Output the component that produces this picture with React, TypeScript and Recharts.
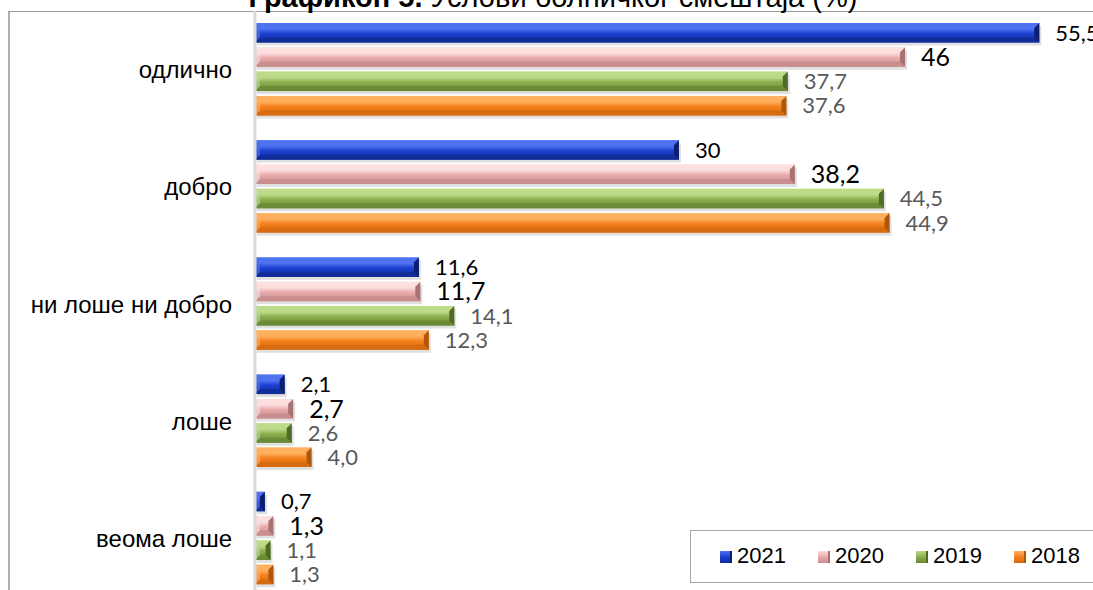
import React from 'react';
import { BarChart, Bar, XAxis, YAxis, LabelList, Legend } from 'recharts';

const categories = ['одлично', 'добро', 'ни лоше ни добро', 'лоше', 'веома лоше'];
const years = ['2021', '2020', '2019', '2018'];
const values2021 = [55.5, 30, 11.6, 2.1, 0.7];
const values2020 = [46, 38.2, 11.7, 2.7, 1.3];
const values2019 = [37.7, 44.5, 14.1, 2.6, 1.1];
const values2018 = [37.6, 44.9, 12.3, 4.0, 1.3];

const titleBold = 'Графикон 5.';
const titleRest = ' Услови болничког смештаја (%)';

const data = categories.map((name, i) => ({
  name,
  y2021: values2021[i],
  y2020: values2020[i],
  y2019: values2019[i],
  y2018: values2018[i],
}));

type Pal = { light: string; mid: string; dark: string; edge: string };
const palettes: Record<string, Pal> = {
  '2021': { light: '#4f72f0', mid: '#1c3fd0', dark: '#112c98', edge: '#0b1f6e' },
  '2020': { light: '#fcdede', mid: '#e8aaaa', dark: '#c98d8d', edge: '#a87272' },
  '2019': { light: '#bddb88', mid: '#8aae4e', dark: '#6a8a36', edge: '#506a26' },
  '2018': { light: '#ffb05e', mid: '#f4801c', dark: '#d66a10', edge: '#b0560a' },
};

const fmtPlain = (v: any) => String(v).replace('.', ',');
const fmtOne = (v: any) => Number(v).toFixed(1).replace('.', ',');

const makeShape = (year: string) => (props: any) => {
  const { x, y, width, height } = props;
  if (!width || width <= 0) return <g />;
  const p = palettes[year];
  const id = `g${year}`;
  const b = Math.min(5, width / 2, height / 2);
  const w = width;
  const h = height;
  return (
    <g>
      <defs>
        <linearGradient id={id} x1="0" y1="0" x2="0" y2="1">
          <stop offset="0%" stopColor={p.light} />
          <stop offset="30%" stopColor={p.light} />
          <stop offset="55%" stopColor={p.mid} />
          <stop offset="100%" stopColor={p.dark} />
        </linearGradient>
      </defs>
      <rect x={x + 2} y={y + 3} width={w} height={h} fill="#000" opacity={0.12} />
      <rect x={x} y={y} width={w} height={h} fill={`url(#${id})`} />
      <polygon points={`${x},${y} ${x + w},${y} ${x + w - b},${y + b} ${x + b},${y + b}`} fill={p.light} opacity={0.8} />
      <polygon points={`${x},${y + h} ${x + w},${y + h} ${x + w - b},${y + h - b} ${x + b},${y + h - b}`} fill={p.dark} opacity={0.9} />
      <polygon points={`${x},${y} ${x},${y + h} ${x + b},${y + h - b} ${x + b},${y + b}`} fill={p.light} opacity={0.6} />
      <polygon points={`${x + w},${y} ${x + w},${y + h} ${x + w - b},${y + h - b} ${x + w - b},${y + b}`} fill={p.edge} />
    </g>
  );
};

const legendPos = [719, 817, 915, 1013];

const LegendBox = () => (
  <div
    style={{
      position: 'absolute',
      left: 0,
      top: 0,
      width: 460,
      height: 53,
      border: '1.5px solid #a6a6a6',
      boxSizing: 'border-box',
      background: '#fff',
    }}
  >
    {years.map((yr, i) => {
      const p = palettes[yr];
      return (
        <div key={yr} style={{ position: 'absolute', left: legendPos[i] - 690, top: 12, display: 'flex', alignItems: 'center' }}>
          <div
            style={{
              width: 12,
              height: 12,
              background: `linear-gradient(${p.light}, ${p.mid} 50%, ${p.dark})`,
              borderRight: `2px solid ${p.edge}`,
              boxSizing: 'border-box',
              marginRight: 5,
              marginTop: 2,
            }}
          />
          <span style={{ fontFamily: '"Liberation Sans", Arial, sans-serif', fontSize: 22, color: '#000', lineHeight: '26px' }}>{yr}</span>
        </div>
      );
    })}
  </div>
);

const labelFont = 'Lato, "Open Sans", sans-serif';

export default function App() {
  return (
    <div style={{ position: 'absolute', left: 0, top: 0, width: 1093, height: 590, overflow: 'hidden', background: '#fff' }}>
      <div
        style={{
          position: 'absolute',
          left: 8,
          top: 11,
          width: 1200,
          height: 700,
          borderTop: '1px solid #9a9a9a',
          borderLeft: '2px solid #b0b0b0',
          boxSizing: 'border-box',
        }}
      />
      <svg style={{ position: 'absolute', left: 0, top: 0 }} width={1093} height={20}>
        <text x={553} y={7} textAnchor="middle" fontFamily='"Liberation Sans", Arial, sans-serif' fontSize={29} fill="#000">
          <tspan fontWeight="bold">{titleBold}</tspan>
          <tspan>{titleRest}</tspan>
        </text>
      </svg>
      <div style={{ position: 'absolute', left: 0, top: 0 }}>
        <BarChart
          width={1093}
          height={600}
          data={data}
          layout="vertical"
          margin={{ top: 11, right: 0, bottom: 3, left: 0 }}
          barSize={19.5}
          barGap={4.8}
        >
          <XAxis type="number" domain={[0, 59.3]} hide />
          <YAxis
            type="category"
            dataKey="name"
            width={255}
            axisLine={{ stroke: '#d9d9d9', strokeWidth: 3 }}
            tickLine={false}
            tickMargin={17}
            tick={{ fill: '#000', fontSize: 24, fontFamily: '"Liberation Sans", Arial, sans-serif' }}
            interval={0}
          />
          <Legend
            verticalAlign="middle"
            align="center"
            layout="horizontal"
            content={() => <LegendBox />}
            wrapperStyle={{ left: 690, top: 530, width: 460, height: 53, bottom: 'auto', right: 'auto' }}
          />
          <Bar dataKey="y2021" name="2021" isAnimationActive={false} shape={makeShape('2021')}>
            <LabelList dataKey="y2021" position="right" offset={16} formatter={fmtPlain} fill="#000" fontSize={22} fontFamily={labelFont} />
          </Bar>
          <Bar dataKey="y2020" name="2020" isAnimationActive={false} shape={makeShape('2020')}>
            <LabelList dataKey="y2020" position="right" offset={16} formatter={fmtPlain} fill="#000" fontSize={25} fontFamily={labelFont} />
          </Bar>
          <Bar dataKey="y2019" name="2019" isAnimationActive={false} shape={makeShape('2019')}>
            <LabelList dataKey="y2019" position="right" offset={16} formatter={fmtOne} fill="#595959" fontSize={22} fontFamily={labelFont} />
          </Bar>
          <Bar dataKey="y2018" name="2018" isAnimationActive={false} shape={makeShape('2018')}>
            <LabelList dataKey="y2018" position="right" offset={16} formatter={fmtOne} fill="#595959" fontSize={22} fontFamily={labelFont} />
          </Bar>
        </BarChart>
      </div>
    </div>
  );
}
